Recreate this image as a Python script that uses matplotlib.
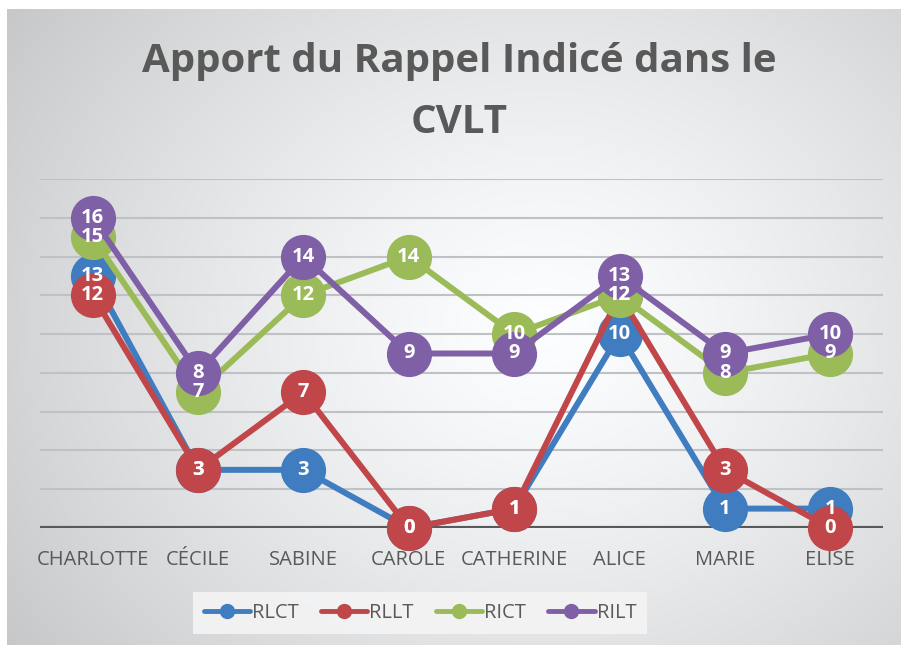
import numpy as np
import matplotlib
matplotlib.use("Agg")
import matplotlib.pyplot as plt
from matplotlib.lines import Line2D

plt.rcParams['font.family'] = ['Open Sans', 'DejaVu Sans']

noms = ['CHARLOTTE', 'CÉCILE', 'SABINE', 'CAROLE', 'CATHERINE', 'ALICE', 'MARIE', 'ELISE']
rlct = [13, 3, 3, 0, 1, 10, 1, 1]
rllt = [12, 3, 7, 0, 1, 12, 3, 0]
rict = [15, 7, 12, 14, 10, 12, 8, 9]
rilt = [16, 8, 14, 9, 9, 13, 9, 10]

series = [('RLCT', rlct, '#3f7cc0'),
          ('RLLT', rllt, '#c0464a'),
          ('RICT', rict, '#9bbb59'),
          ('RILT', rilt, '#7f5fa5')]

fig = plt.figure(figsize=(9.01, 6.45), dpi=100)
fig.patch.set_facecolor('white')

# fond en degrade radial
bg = fig.add_axes([7 / 901, 0, 1 - 7 / 901, 1 - 9 / 645])
bg.set_axis_off()
yy, xx = np.mgrid[0:1:300j, 0:1:400j]
d = np.sqrt(((xx - 0.6) / 0.75) ** 2 + ((yy - 0.5) / 0.9) ** 2)
d = np.clip(d, 0, 1)
v = 1.0 - 0.22 * d ** 1.3
img = np.dstack([v * 0.99, v * 0.995, v * 1.0])
img = np.clip(img, 0, 1)
bg.imshow(img, aspect='auto', extent=[0, 1, 0, 1], origin='upper')
bg.set_zorder(0)

ax = fig.add_axes([40 / 901, (645 - 528) / 645, 843 / 901, 349 / 645])
ax.set_zorder(1)
ax.patch.set_alpha(0)
x = np.arange(len(noms))

for y in range(2, 19, 2):
    ax.axhline(y, color='#c0c1c4', lw=1.5, zorder=1)
ax.axhline(0, color='#595959', lw=3, zorder=2)

for i, (nom, vals, col) in enumerate(series):
    ax.plot(x, vals, '-o', color=col, lw=4.3, ms=31.5, mec=col,
            zorder=3 + i, clip_on=False, solid_capstyle='round')
for i, (nom, vals, col) in enumerate(series):
    for xi, vi in zip(x, vals):
        ax.text(xi, vi, str(vi), color='white', fontsize=14.5, fontweight='bold',
                ha='center', va='center', zorder=10, clip_on=False)

ax.set_xlim(-0.5, len(noms) - 0.5)
ax.set_ylim(0, 18)
ax.set_yticks([])
ax.set_xticks(x)
ax.set_xticklabels(noms, color='#595959', fontsize=14.5)
ax.tick_params(axis='x', length=0, pad=16)
for s in ax.spines.values():
    s.set_visible(False)

fig.text(0.51, 1 - 92 / 645, 'Apport du Rappel Indicé dans le\nCVLT', ha='center', va='center',
         fontsize=29, fontweight='bold', color='#595959', linespacing=1.72)

handles = [Line2D([0], [0], color=c, lw=3.5, marker='o', ms=10, solid_capstyle='round')
           for _, _, c in series]
leg = fig.legend(handles, [s[0] for s in series], loc='center',
                 bbox_to_anchor=(420 / 901, 1 - 613 / 645), ncol=4, frameon=True,
                 fontsize=14.5, handlelength=2.3, handletextpad=0.1, columnspacing=1.1,
                 borderpad=0.55, borderaxespad=0, fancybox=False)
leg.get_frame().set_facecolor('#f4f4f5')
leg.get_frame().set_edgecolor('none')
leg.get_frame().set_alpha(0.9)
for t in leg.get_texts():
    t.set_color('#595959')

fig.savefig('out.png', dpi=100)
